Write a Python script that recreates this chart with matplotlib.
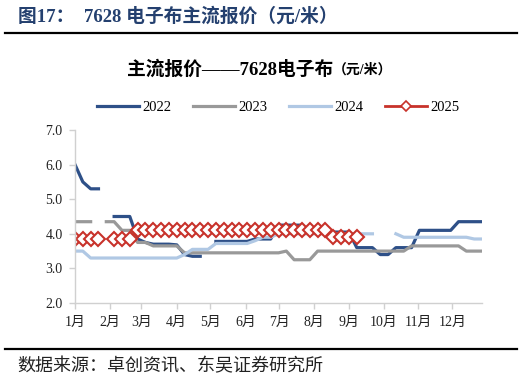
import numpy as np
import matplotlib
matplotlib.use('Agg')
import matplotlib.pyplot as plt
from matplotlib.lines import Line2D

plt.rcParams['font.family'] = ['Liberation Serif', 'Noto Sans CJK SC']
plt.rcParams['axes.unicode_minus'] = False

nan = np.nan

# weekly quotes, week 0 = first week of January
s2022 = [6.0, 5.5, 5.3, 5.3, nan, 4.5, 4.5, 4.5, 3.85, 3.75,
         3.7, 3.7, 3.7, 3.68, 3.4, 3.35, 3.35, nan, 3.78, 3.78,
         3.78, 3.78, 3.78, 3.85, 3.85, 3.85, 4.25, 4.25, 4.25, 4.25,
         4.05, 4.05, 4.05, 4.05, 4.05, 4.05, 3.6, 3.6, 3.6, 3.4,
         3.4, 3.6, 3.6, 3.6, 4.1, 4.1, 4.1, 4.1, 4.1, 4.35,
         4.35, 4.35, 4.35]
s2023 = [4.35, 4.35, 4.35, nan, 4.35, 4.35, 4.1, 4.1, 3.75, 3.75,
         3.65, 3.65, 3.65, 3.65, 3.45, 3.45, 3.45, 3.45, 3.45, 3.45,
         3.45, 3.45, 3.45, 3.45, 3.45, 3.45, 3.45, 3.5, 3.25, 3.25,
         3.25, 3.5, 3.5, 3.5, 3.5, 3.5, 3.5, 3.5, 3.5, 3.5,
         3.5, 3.5, 3.5, 3.65, 3.65, 3.65, 3.65, 3.65, 3.65, 3.65,
         3.5, 3.5, 3.5]
s2024 = [3.5, 3.5, 3.3, 3.3, 3.3, 3.3, 3.3, 3.3, 3.3, 3.3,
         3.3, 3.3, 3.3, 3.3, 3.4, 3.55, 3.55, 3.55, 3.72, 3.72,
         3.72, 3.72, 3.72, 3.8, 3.9, 3.9, 4.0, 4.0, 4.0, 4.0,
         4.0, 4.0, 4.0, 4.0, 4.0, 4.0, 4.0, 4.0, 4.0, nan,
         nan, 4.0, 3.9, 3.9, 3.9, 3.9, 3.9, 3.9, 3.9, 3.9,
         3.9, 3.85, 3.85]
s2025 = [3.85, 3.85, 3.85, 3.85, nan, 3.85, 3.85, 3.85, 4.1, 4.1,
         4.1, 4.1, 4.1, 4.1, 4.1, 4.1, 4.1, 4.1, 4.1, 4.1,
         4.1, 4.1, 4.1, 4.1, 4.1, 4.1, 4.1, 4.1, 4.1, 4.1,
         4.1, 4.1, 4.1, 3.9, 3.9, 3.9, 3.9]

months = ['1月', '2月', '3月', '4月', '5月', '6月', '7月', '8月', '9月', '10月', '11月', '12月']
month_pos = [0, 4.48, 8.49, 12.97, 17.31, 21.79, 26.09, 30.56, 35.0, 39.44, 43.82, 48.21]

c22, c23, c24, c25 = '#2E5088', '#999999', '#B0C8E4', '#C8322A'

fig = plt.figure(figsize=(5.25, 3.88), dpi=100)
ax = fig.add_axes([75/525, 1-303/388, (482-75)/525, (303-130)/388])

lw = 2.3
ax.plot(np.arange(len(s2022)), s2022, color=c22, lw=lw, label='2022')
ax.plot(np.arange(len(s2023)), s2023, color=c23, lw=lw, label='2023')
ax.plot(np.arange(len(s2024)), s2024, color=c24, lw=lw, label='2024')
ax.plot(np.arange(len(s2025)), s2025, color=c25, lw=1.5, marker='D', ms=7,
        mfc='white', mec=c25, mew=1.5, label='2025')

ax.set_xlim(0, 52)
ax.set_ylim(2.0, 7.0)
ax.set_yticks(np.arange(2.0, 7.01, 1.0))
ax.set_yticklabels(['%.1f' % v for v in np.arange(2.0, 7.01, 1.0)], fontsize=10)
ax.set_xticks(month_pos)
ax.set_xticklabels(months, fontsize=10)

for s in ['top', 'right']:
    ax.spines[s].set_visible(False)
for s in ['left', 'bottom']:
    ax.spines[s].set_color('#D0D0D0')
    ax.spines[s].set_linewidth(1.0)
ax.tick_params(axis='both', direction='out', length=4, width=1, color='#D0D0D0', colors='#222222', pad=5)

handles = [Line2D([], [], color=c22, lw=lw),
           Line2D([], [], color=c23, lw=lw),
           Line2D([], [], color=c24, lw=lw),
           Line2D([], [], color=c25, lw=2, marker='D', ms=5, mfc='white', mec=c25, mew=1.2)]
fig.legend(handles, ['2022', '2023', '2024', '2025'], loc='center', bbox_to_anchor=(0.53, 1-107/388),
           ncol=4, frameon=False, fontsize=10.5, handlelength=2.9, handletextpad=0.25, columnspacing=1.45)

# header and footer
fig.text(18/525, 1-16/388, '图17：  7628 电子布主流报价（元/米）', fontsize=13.5, fontweight='bold',
         color='#24406F', va='center', ha='left')
fig.add_artist(Line2D([5/525, 517/525], [1-33/388, 1-33/388], color='black', lw=1.6))
fig.text(333/525, 1-70/388, '主流报价——7628电子布', fontsize=13.5, fontweight='bold',
         color='black', va='center', ha='right')
fig.text(333/525, 1-70/388, '（元/米）', fontsize=10, fontweight='bold', color='black', va='center', ha='left')
fig.add_artist(Line2D([5/525, 517/525], [1-349/388, 1-349/388], color='black', lw=1.6))
fig.text(17/525, 1-367/388, '数据来源：卓创资讯、东吴证券研究所', fontsize=13, color='#222222',
         va='center', ha='left')

fig.savefig('out.png', dpi=100)
